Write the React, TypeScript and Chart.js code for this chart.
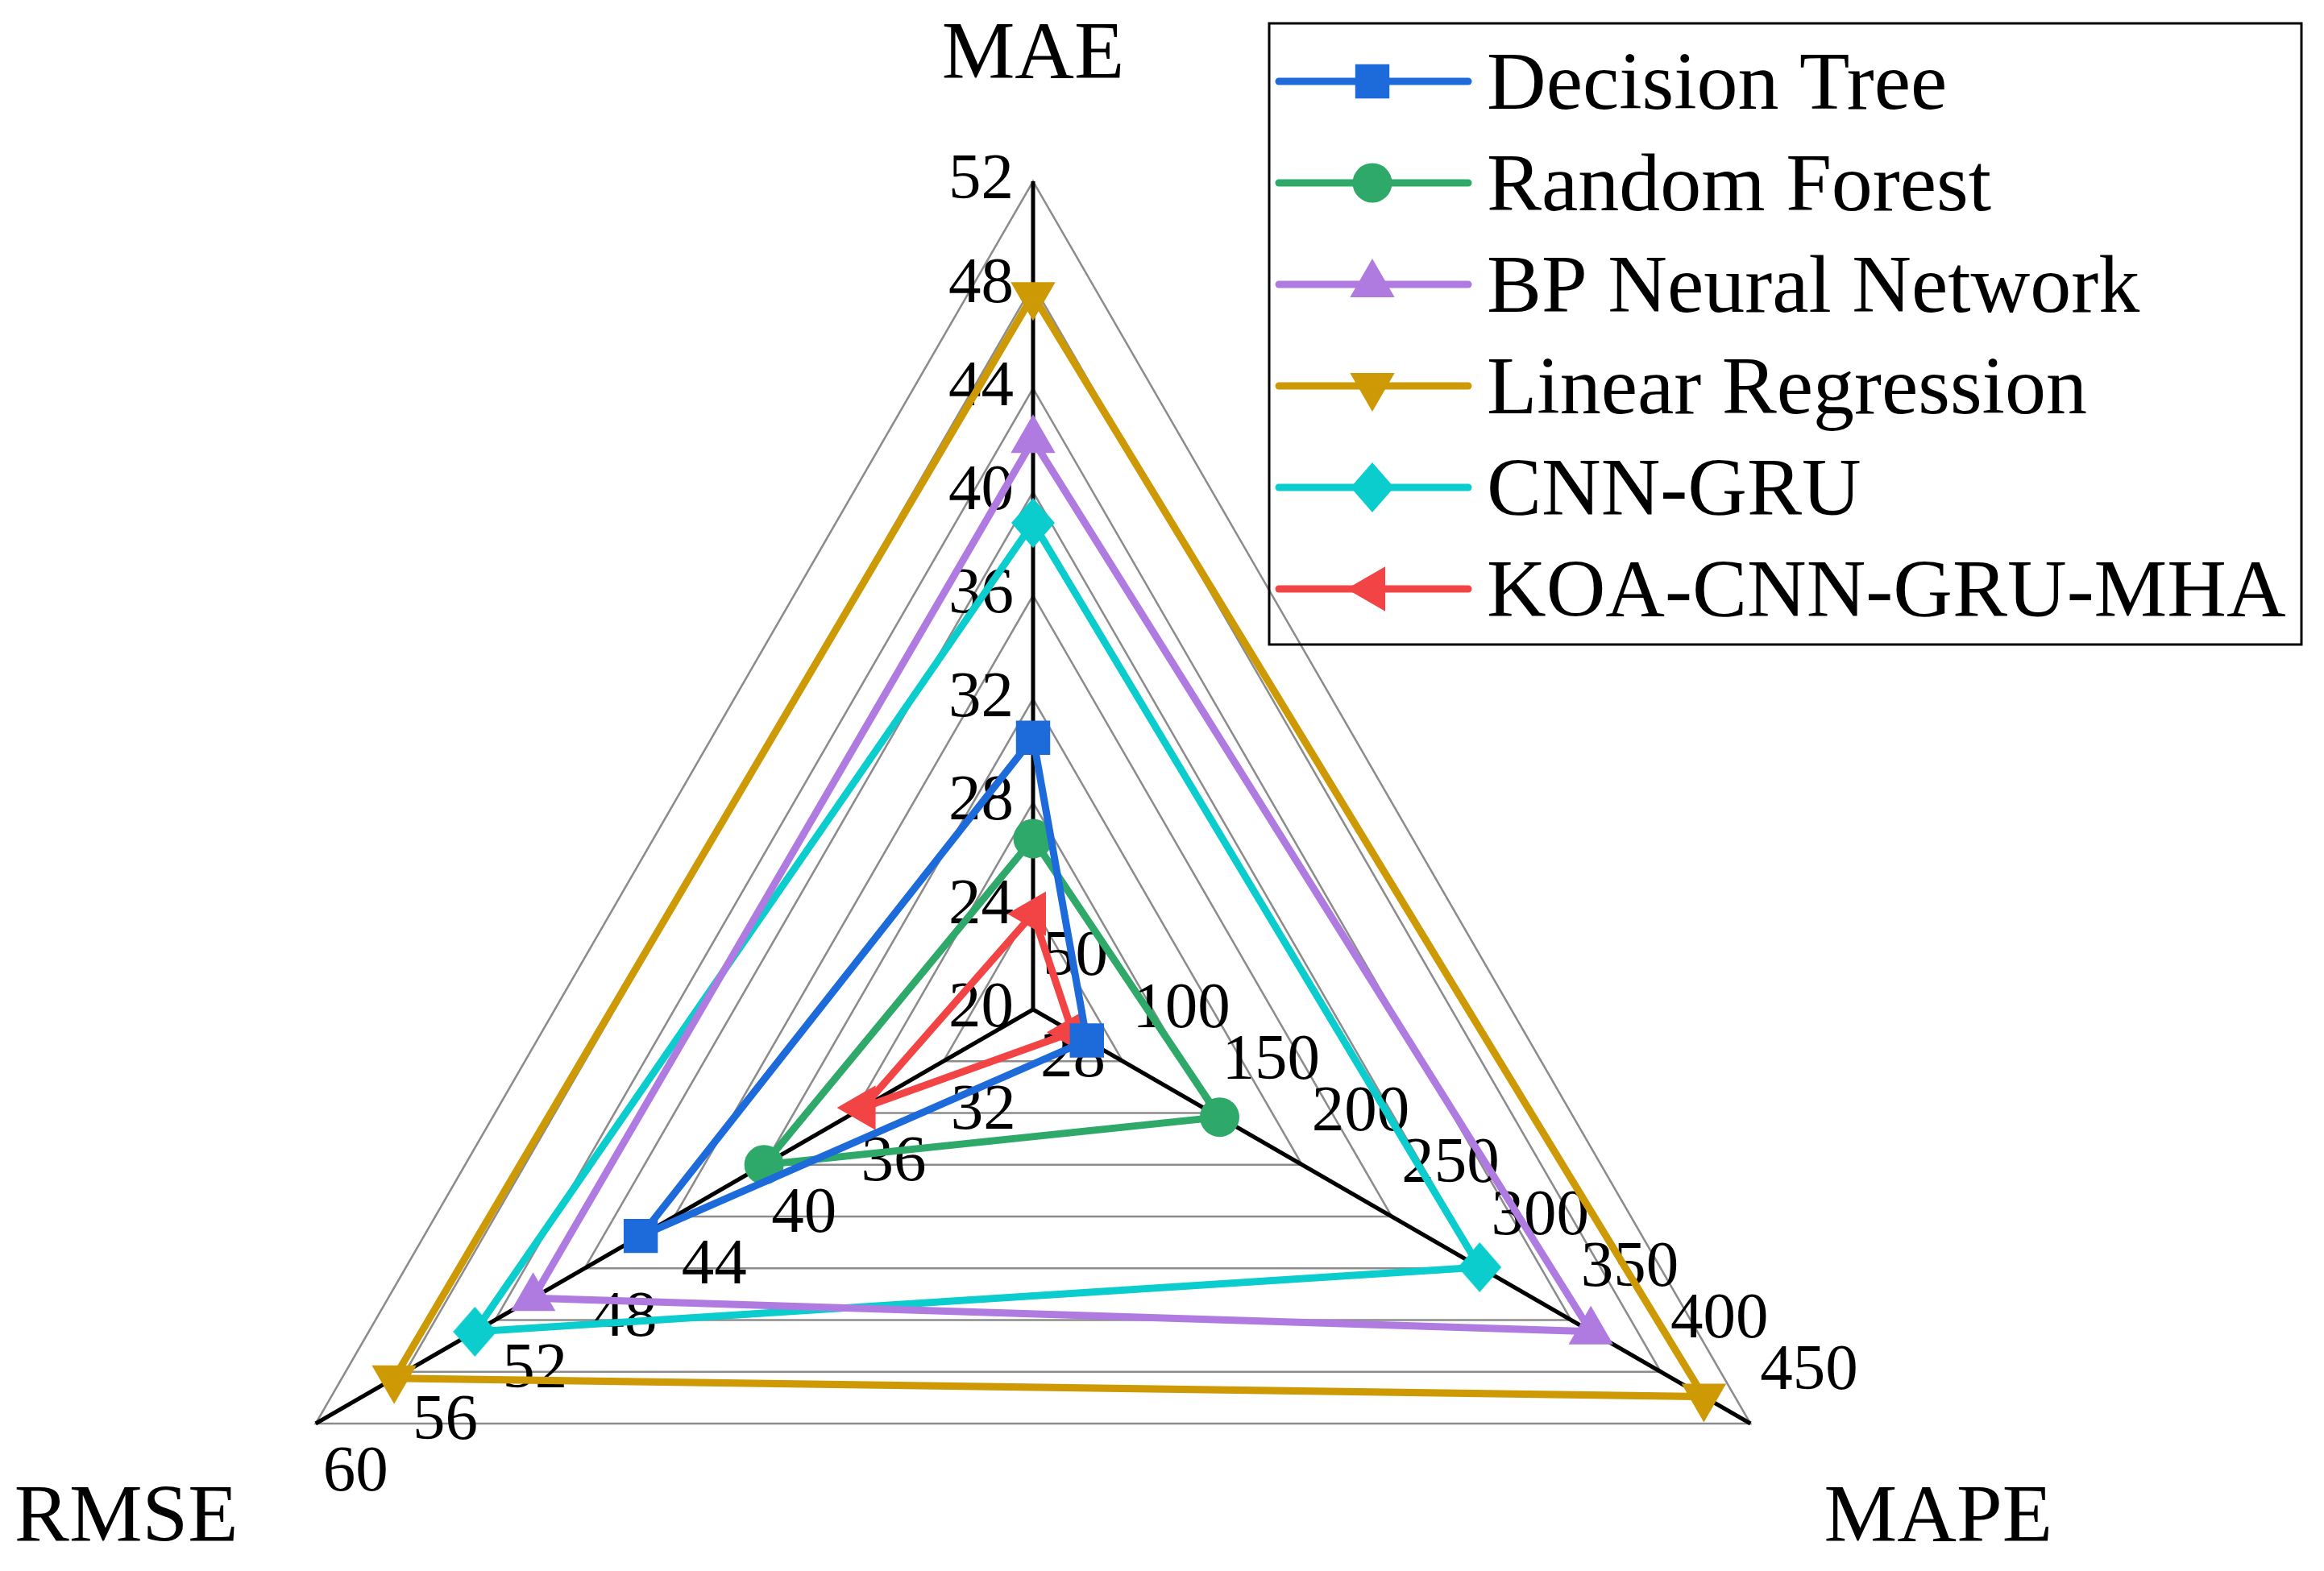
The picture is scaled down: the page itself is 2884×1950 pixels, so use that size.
import React, { useEffect, useRef } from 'react';
import { Chart, registerables } from 'chart.js';
import { drawPoint } from 'chart.js/helpers';

Chart.register(...registerables);

// ---- data ----
const AXES = ['MAE', 'MAPE', 'RMSE'];
const MAE_TICKS = [20, 24, 28, 32, 36, 40, 44, 48, 52];
const MAPE_TICKS = [50, 100, 150, 200, 250, 300, 350, 400, 450];
const RMSE_TICKS = [28, 32, 36, 40, 44, 48, 52, 56, 60];

const SERIES_NAMES = [
  'Decision Tree',
  'Random Forest',
  'BP Neural Network',
  'Linear Regression',
  'CNN-GRU',
  'KOA-CNN-GRU-MHA',
];
const MAE_VALUES = [30.5, 26.6, 42.0, 47.6, 38.8, 23.7];
const MAPE_VALUES = [80, 154, 361, 424, 299, 72];
const RMSE_VALUES = [45.5, 40.0, 50.3, 56.5, 52.9, 35.6];

const COLORS = ['#1D6ADB', '#2FA96A', '#B07BE0', '#CD9A06', '#0BCDCD', '#F24444'];

const FONT = '"Liberation Serif", "Times New Roman", serif';

const TICK_SETS = [MAE_TICKS, MAPE_TICKS, RMSE_TICKS];
const VALUE_SETS = [MAE_VALUES, MAPE_VALUES, RMSE_VALUES];

const norm = (v: number, ticks: number[]) =>
  ((v - ticks[0]) / (ticks[ticks.length - 1] - ticks[0])) * (ticks.length - 1);

function makeDiamond(color: string, w: number, h: number) {
  const c = document.createElement('canvas');
  c.width = w;
  c.height = h;
  const g = c.getContext('2d')!;
  g.fillStyle = color;
  g.beginPath();
  g.moveTo(w / 2, 0);
  g.lineTo(w, h / 2);
  g.lineTo(w / 2, h);
  g.lineTo(0, h / 2);
  g.closePath();
  g.fill();
  return c;
}

export default function App() {
  const ref = useRef<HTMLCanvasElement | null>(null);

  useEffect(() => {
    if (!ref.current) return;
    const diamond = makeDiamond(COLORS[4], 54, 62);
    const markers: any[] = [
      { pointStyle: 'rect', radius: 30, rotation: 0 },
      { pointStyle: 'circle', radius: 24.5, rotation: 0 },
      { pointStyle: 'triangle', radius: 32, rotation: 0 },
      { pointStyle: 'triangle', radius: 32, rotation: 180 },
      { pointStyle: diamond, radius: 29, rotation: 0 },
      { pointStyle: 'triangle', radius: 32, rotation: 270 },
    ];

    const datasets = SERIES_NAMES.map((name, i) => ({
      label: name,
      data: VALUE_SETS.map((vals, a) => norm(vals[i], TICK_SETS[a])),
      borderColor: COLORS[i],
      backgroundColor: COLORS[i],
      pointBackgroundColor: COLORS[i],
      pointBorderColor: COLORS[i],
      pointBorderWidth: 0,
      pointStyle: markers[i].pointStyle,
      pointRadius: markers[i].radius,
      pointRotation: markers[i].rotation,
      borderWidth: 9,
      fill: false,
      tension: 0,
      clip: false,
    }));

    const overlay = {
      id: 'overlay',
      beforeDatasetsDraw(chart: any) {
        const scale = chart.scales.r;
        const ctx = chart.ctx;
        ctx.save();
        ctx.font = `81px ${FONT}`;
        ctx.fillStyle = '#000';
        ctx.textBaseline = 'middle';
        const offs = [
          { align: 'right', dx: -24, dy: 0 },
          { align: 'left', dx: 12, dy: -64 },
          { align: 'left', dx: 9, dy: 62 },
        ];
        TICK_SETS.forEach((ticks, i) => {
          ticks.forEach((t, k) => {
            const p = scale.getPointPositionForValue(i, k);
            ctx.textAlign = offs[i].align;
            ctx.fillText(String(t), p.x + offs[i].dx, p.y + offs[i].dy);
          });
        });
        ctx.restore();
      },
      afterDraw(chart: any) {
        const scale = chart.scales.r;
        const ctx = chart.ctx;
        ctx.save();
        // axis titles
        ctx.font = `102px ${FONT}`;
        ctx.fillStyle = '#000';
        ctx.textBaseline = 'alphabetic';
        ctx.textAlign = 'center';
        const top = scale.getPointPositionForValue(0, 8);
        const br = scale.getPointPositionForValue(1, 8);
        const bl = scale.getPointPositionForValue(2, 8);
        ctx.fillText(AXES[0], top.x, top.y - 128);
        ctx.fillText(AXES[1], br.x + 233, br.y + 146);
        ctx.fillText(AXES[2], bl.x - 235, bl.y + 146);

        // legend
        const bx = 1575, by = 29, bw = 1281, bh = 771;
        ctx.lineWidth = 3;
        ctx.strokeStyle = '#000';
        ctx.strokeRect(bx, by, bw, bh);
        SERIES_NAMES.forEach((name, i) => {
          const y = 101 + i * 126;
          ctx.beginPath();
          ctx.lineCap = 'round';
          ctx.lineWidth = 9;
          ctx.strokeStyle = COLORS[i];
          ctx.moveTo(1587, y);
          ctx.lineTo(1822, y);
          ctx.stroke();
          ctx.fillStyle = COLORS[i];
          ctx.strokeStyle = COLORS[i];
          drawPoint(ctx, {
            pointStyle: markers[i].pointStyle,
            rotation: markers[i].rotation,
            radius: markers[i].radius,
            borderWidth: 0,
          } as any, 1703, y);
          ctx.fillStyle = '#000';
          ctx.textAlign = 'left';
          ctx.textBaseline = 'alphabetic';
          ctx.font = `102px ${FONT}`;
          ctx.fillText(name, 1845, y + 34);
        });
        ctx.restore();
      },
    };

    const chart = new Chart(ref.current, {
      type: 'radar',
      data: { labels: AXES, datasets },
      options: {
        responsive: false,
        animation: false,
        events: [],
        layout: { padding: 0 },
        plugins: {
          legend: { display: false },
          tooltip: { enabled: false },
          title: { display: false },
        },
        scales: {
          r: {
            min: 0,
            max: MAE_TICKS.length - 1,
            ticks: { display: false, stepSize: 1 },
            pointLabels: { display: false },
            grid: { color: '#8c8c8c', lineWidth: 2.5, circular: false },
            angleLines: { color: '#000', lineWidth: 5 },
            afterFit: (s: any) => {
              s.xCenter = 1282;
              s.yCenter = 1253;
              s.drawingArea = 1028;
            },
          },
        },
      } as any,
      plugins: [overlay],
    });
    return () => chart.destroy();
  }, []);

  return (
    <div style={{ position: 'absolute', left: 0, top: 0, width: 2884, height: 1950, background: '#fff' }}>
      <canvas ref={ref} width={2884} height={1950} style={{ display: 'block', width: 2884, height: 1950 }} />
    </div>
  );
}
